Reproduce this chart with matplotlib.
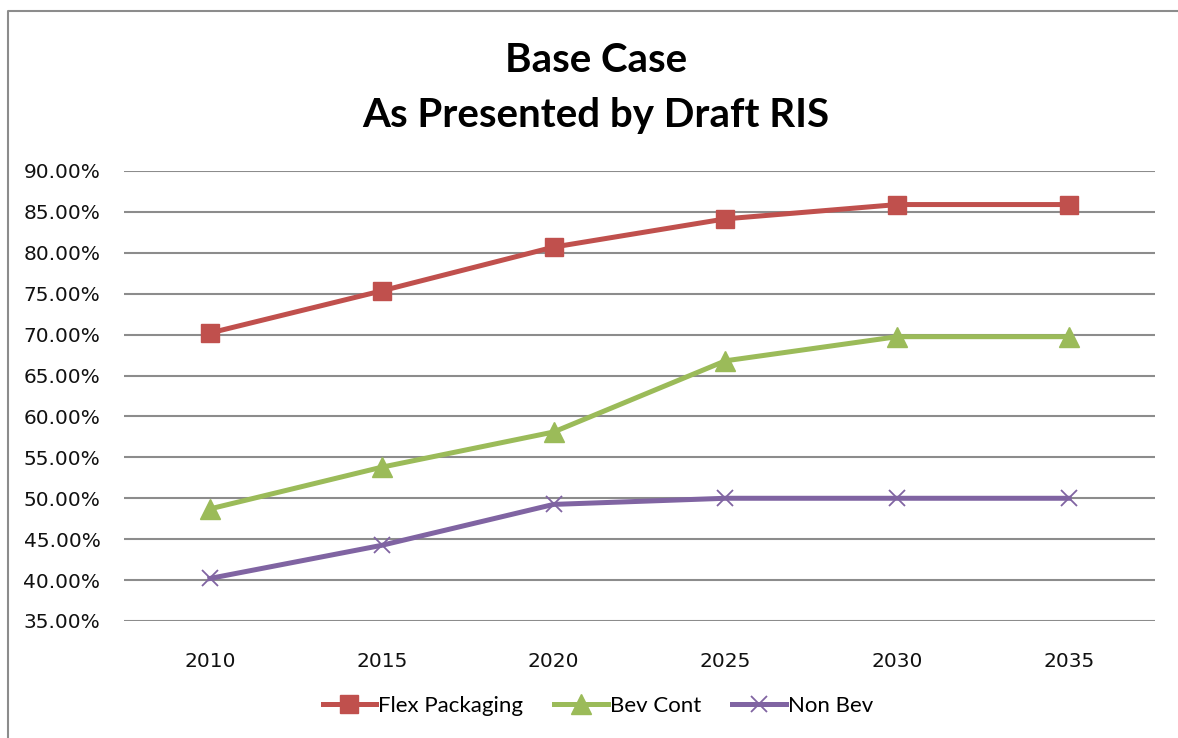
import matplotlib.pyplot as plt
from matplotlib.lines import Line2D

years = ["2010", "2015", "2020", "2025", "2030", "2035"]
flex = [70.2, 75.35, 80.7, 84.15, 85.9, 85.9]
bev = [48.7, 53.8, 58.1, 66.8, 69.75, 69.75]
nonbev = [40.2, 44.25, 49.25, 50.0, 50.0, 50.0]
yticks = [35, 40, 45, 50, 55, 60, 65, 70, 75, 80, 85, 90]

W, H = 1178, 738
fig = plt.figure(figsize=(W / 100, H / 100), dpi=100)
fig.patch.set_facecolor("white")

# outer chart border: only top and left edges show
bx, by = 8 / W, 1 - 11 / H
fig.lines.append(Line2D([bx, bx, 1.0], [0.0, by, by], transform=fig.transFigure,
                        color="#8c8c8c", lw=1.5))

ax = fig.add_axes([124 / W, 1 - 621 / H, (1155 - 124) / W, (621 - 171) / H])
x = list(range(len(years)))

ax.plot(x, flex, color="#C0504D", lw=3.6, marker="s", ms=13, label="Flex Packaging")
ax.plot(x, bev, color="#9BBB59", lw=3.6, marker="^", ms=14, label="Bev Cont")
ax.plot(x, nonbev, color="#8064A2", lw=3.6, marker="x", ms=11, mew=1.3, label="Non Bev")

ax.set_xlim(-0.5, len(years) - 0.5)
ax.set_ylim(35, 90)
ax.set_yticks(yticks)
ax.set_yticklabels([f"{v:.2f}%" for v in yticks], fontsize=14.5, color="#111111")
ax.set_xticks(x)
ax.set_xticklabels(years, fontsize=14.5, color="#111111")
ax.tick_params(axis="both", length=0)
ax.tick_params(axis="y", pad=17)
ax.tick_params(axis="x", pad=22)
for s in ax.spines.values():
    s.set_visible(False)
ax.grid(axis="y", color="#8c8c8c", lw=1.5)
ax.set_axisbelow(True)

fig.text(596 / W, 1 - 60 / H, "Base Case", ha="center", va="center",
         fontsize=29, fontweight="bold", family="Lato")
fig.text(596 / W, 1 - 115 / H, "As Presented by Draft RIS", ha="center", va="center",
         fontsize=29, fontweight="bold", family="Lato")

fig.legend(loc="center", bbox_to_anchor=(598 / W, 1 - 706 / H), ncol=3, frameon=False,
           prop={"family": "Lato", "size": 16}, handlelength=2.4, columnspacing=1.4,
           handletextpad=0.1)

fig.savefig("out.png", dpi=100)
